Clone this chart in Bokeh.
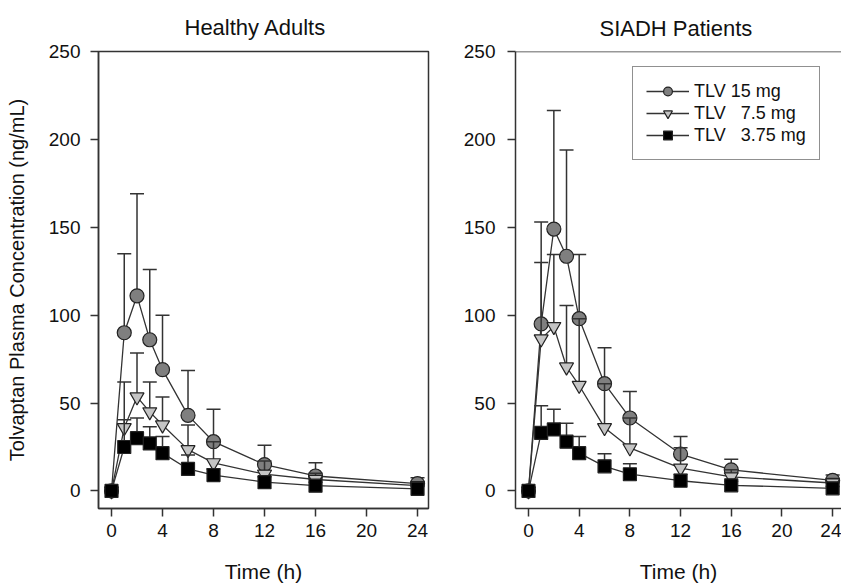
from bokeh.plotting import figure
from bokeh.layouts import row
from bokeh.models import Range1d, Span, Legend, LegendItem, Title, FixedTicker
from bokeh.embed import file_html
from bokeh.resources import INLINE

# ---------------- data ----------------
times = [0, 1, 2, 3, 4, 6, 8, 12, 16, 24]
x_ticks = [0, 4, 8, 12, 16, 20, 24]
y_ticks = [0, 50, 100, 150, 200, 250]
dose_labels = ["TLV 15 mg", "TLV \u00a0\u00a07.5 mg", "TLV \u00a0\u00a03.75 mg"]
panel_titles = ["Healthy Adults", "SIADH Patients"]
x_label = "Time (h)"
y_label = "Tolvaptan Plasma Concentration (ng/mL)"

# Healthy adults: mean and SD
ha_15_mean = [0, 90, 111, 86, 69, 43, 28, 15, 8.5, 4.2]
ha_15_sd = [0, 45, 58, 40, 31, 25.5, 18.5, 11, 7.5, 3.3]
ha_75_mean = [0, 36, 53.5, 45, 37.5, 23.5, 16, 9.5, 6.5, 3]
ha_75_sd = [0, 26, 25, 17, 16, 14, 12, 7.5, 3.5, 2]
ha_375_mean = [0, 25, 30, 27, 21.5, 12.5, 9, 5, 3, 1.2]
ha_375_sd = [0, 15.5, 11.5, 9.5, 9.5, 8, 3.5, 3, 2, 1.3]

# SIADH patients: mean and SD
si_15_mean = [0, 95, 149, 133.5, 98, 61, 41.5, 21, 12, 6]
si_15_sd = [0, 58, 67.5, 60.5, 36.5, 20.5, 15, 10, 6, 3]
si_75_mean = [0, 86.5, 93.5, 70.5, 60, 36, 24.5, 13, 8, 4.5]
si_75_sd = [0, 43.5, 41, 35, 38, 25, 17, 11.5, 4, 2.5]
si_375_mean = [0, 33, 35, 28, 21.5, 14, 9.5, 5.8, 3.2, 1.5]
si_375_sd = [0, 15.5, 11.5, 10.5, 9.5, 7.2, 6, 3.7, 2.3, 1]

# ---------------- style ----------------
FONT = "Liberation Sans"
DARK = "#333333"
styles = [
    dict(marker="circle", size=14, fill="#7f7f7f"),
    dict(marker="inverted_triangle", size=14, fill="#c4c4c4"),
    dict(marker="square", size=13, fill="#000000"),
]


def make_fig(title, width, bl, br, bt, bb, x_start, x_end, title_offset, title_standoff,
             show_ylabel, outline, ytick_standoff):
    p = figure(width=width, height=586, x_range=Range1d(x_start, x_end),
               y_range=Range1d(-10, 250), output_backend="svg", toolbar_location=None,
               min_border_left=bl, min_border_right=br, min_border_top=bt,
               min_border_bottom=bb)
    xa = p.below[0]
    ya = p.left[0]
    p.title = Title(text=title, align="left", offset=title_offset, text_font=FONT,
                    text_font_size="22px", text_font_style="normal",
                    text_color="#111111", standoff=title_standoff)
    p.xgrid.visible = False
    p.ygrid.visible = False
    p.background_fill_color = "white"
    p.border_fill_color = "white"
    if outline:
        p.outline_line_color = DARK
        p.outline_line_width = 1.5
    else:
        p.outline_line_color = None
        p.add_layout(Span(location=250, dimension="width", line_color=DARK, line_width=1.5))
    xa.ticker = FixedTicker(ticks=x_ticks)
    ya.ticker = FixedTicker(ticks=y_ticks)
    for ax in (xa, ya):
        ax.axis_line_color = DARK
        ax.axis_line_width = 1.5
        ax.major_tick_line_color = DARK
        ax.major_tick_line_width = 1.5
        ax.major_tick_out = 8
        ax.major_tick_in = 0
        ax.minor_tick_out = 0
        ax.minor_tick_in = 0
        ax.major_label_text_font = FONT
        ax.major_label_text_font_size = "19px"
        ax.major_label_text_color = "#111111"
        ax.axis_label_text_font = FONT
        ax.axis_label_text_font_style = "normal"
        ax.axis_label_text_color = "#111111"
    xa.major_label_standoff = 7
    ya.major_label_standoff = ytick_standoff
    xa.axis_label = x_label
    xa.axis_label_text_font_size = "21px"
    xa.axis_label_standoff = 20
    if show_ylabel:
        ya.axis_label = y_label
        ya.axis_label_text_font_size = "20px"
        ya.axis_label_standoff = 18
    return p


def add_series(p, means, sds):
    items = []
    for mean, sd, st, lab in zip(means, sds, styles, dose_labels):
        xs = [t for t, s in zip(times, sd) if s > 0]
        y0 = [m for m, s in zip(mean, sd) if s > 0]
        y1 = [m + s for m, s in zip(mean, sd) if s > 0]
        lr = p.line(times, mean, line_color=DARK, line_width=1.3)
        p.segment(x0=xs, y0=y0, x1=xs, y1=y1, line_color=DARK, line_width=1.5)
        p.scatter(xs, y1, marker="dash", size=14, line_color=DARK, line_width=1.5)
        mr = p.scatter(times, mean, marker=st["marker"], size=st["size"],
                       fill_color=st["fill"], line_color="#222222", line_width=1.2)
        items.append(LegendItem(label=lab, renderers=[lr, mr]))
    return items


p1 = make_fig(panel_titles[0], 460, 98, 32, 49, 77, -1.02, 24.86, 86, 24,
              True, True, 10)
add_series(p1, [ha_15_mean, ha_75_mean, ha_375_mean], [ha_15_sd, ha_75_sd, ha_375_sd])

p2 = make_fig(panel_titles[1], 381, 55, 0, 47, 78, -1.026, 24.7, 84, 22,
              False, False, 12)
items = add_series(p2, [si_15_mean, si_75_mean, si_375_mean], [si_15_sd, si_75_sd, si_375_sd])

legend = Legend(items=items, location=(117, 348), glyph_width=43, glyph_height=22,
                label_height=22, spacing=0, padding=13, label_standoff=5,
                label_width=0, margin=0,
                label_text_font=FONT, label_text_font_size="18px", label_text_color="#111111",
                border_line_color="#222222", border_line_width=1.2,
                background_fill_color="white", background_fill_alpha=1.0)
p2.add_layout(legend)

layout = row(p1, p2)
open("out.html", "w").write(file_html(layout, INLINE))
